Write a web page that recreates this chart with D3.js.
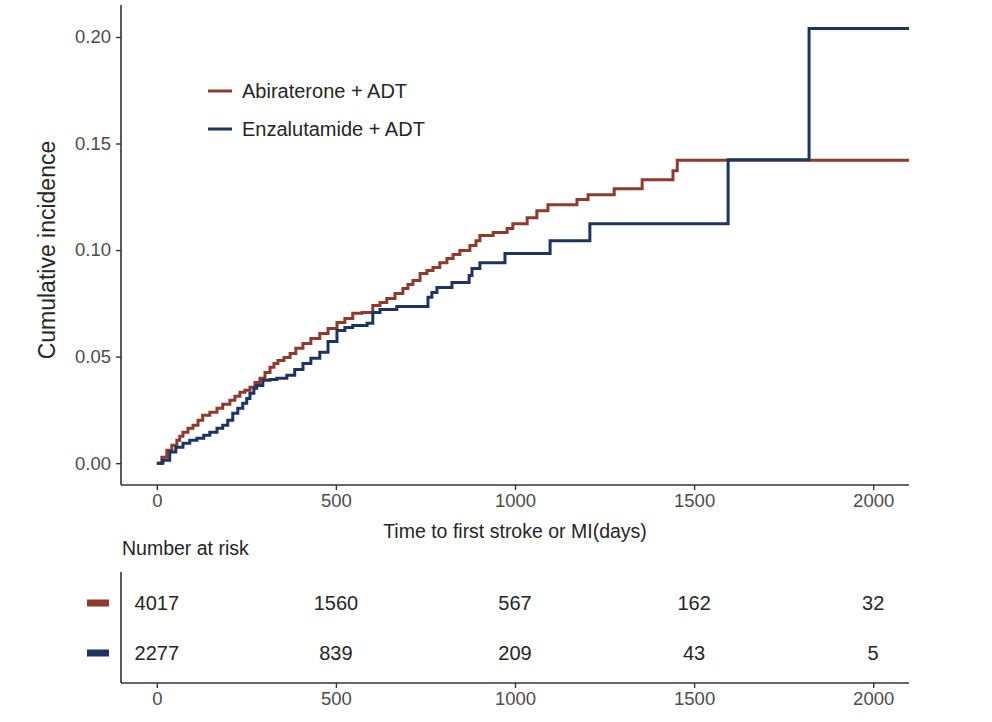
<!DOCTYPE html>
<html>
<head>
<meta charset="utf-8">
<script src="https://cdn.jsdelivr.net/npm/d3@7"></script>
<style>
  html, body { margin: 0; padding: 0; background: #ffffff; }
  svg { display: block; font-family: "Liberation Sans", Arial, Helvetica, sans-serif; }
</style>
</head>
<body>
<svg id="chart" width="992" height="722"></svg>
<script>
// ---- Data ----
const seriesNames = ["Abiraterone + ADT", "Enzalutamide + ADT"];
const seriesColors = ["#8f3a2f", "#1d3360"];

const abiTime = [0, 14, 28, 42, 56, 64, 73, 87, 101, 115, 128, 148, 168, 184, 204, 218, 232, 246, 260, 274, 288, 302, 316, 327, 338, 355, 372, 388, 408, 430, 455, 478, 503, 525, 547, 573, 603, 623, 642, 665, 687, 701, 715, 735, 754, 771, 790, 810, 827, 846, 874, 891, 902, 939, 978, 994, 1034, 1061, 1092, 1173, 1204, 1277, 1355, 1441, 1453, 2100];
const abiInc  = [0, 0.0028, 0.0061, 0.0084, 0.0108, 0.0126, 0.0145, 0.0164, 0.0178, 0.0201, 0.0225, 0.0239, 0.0258, 0.0276, 0.0295, 0.0314, 0.0333, 0.0342, 0.0356, 0.0379, 0.0398, 0.0426, 0.0450, 0.0468, 0.0482, 0.0496, 0.0515, 0.0539, 0.0562, 0.0585, 0.0609, 0.0632, 0.0660, 0.0679, 0.0703, 0.0707, 0.0740, 0.0754, 0.0773, 0.0796, 0.0820, 0.0838, 0.0857, 0.0890, 0.0904, 0.0918, 0.0941, 0.0960, 0.0979, 0.0998, 0.1021, 0.1044, 0.1068, 0.1082, 0.1101, 0.1124, 0.1152, 0.1185, 0.1213, 0.1237, 0.1260, 0.1288, 0.1330, 0.1372, 0.1422, 0.1422];

const enzTime = [0, 17, 36, 53, 73, 92, 112, 131, 148, 168, 184, 198, 212, 226, 240, 251, 260, 271, 279, 296, 316, 335, 363, 385, 408, 430, 455, 478, 503, 525, 547, 587, 603, 623, 670, 757, 768, 782, 824, 872, 880, 902, 972, 1098, 1209, 1595, 1821, 2100];
const enzInc  = [0, 0.0014, 0.0052, 0.0075, 0.0094, 0.0108, 0.0117, 0.0131, 0.0145, 0.0164, 0.0178, 0.0201, 0.0234, 0.0258, 0.0281, 0.0304, 0.0328, 0.0351, 0.0365, 0.0389, 0.0393, 0.0398, 0.0412, 0.0440, 0.0468, 0.0492, 0.0520, 0.0571, 0.0623, 0.0637, 0.0646, 0.0656, 0.0707, 0.0721, 0.0735, 0.0778, 0.0801, 0.0824, 0.0848, 0.0881, 0.0913, 0.0941, 0.0984, 0.1044, 0.1124, 0.1424, 0.2040, 0.2040];

const xTicks = [0, 500, 1000, 1500, 2000];
const yTicks = [0, 0.05, 0.10, 0.15, 0.20];

const riskTimes = [0, 500, 1000, 1500, 2000];
const riskAbi = [4017, 1560, 567, 162, 32];
const riskEnz = [2277, 839, 209, 43, 5];

const xTitle = "Time to first stroke or MI(days)";
const yTitle = "Cumulative incidence";
const riskTitle = "Number at risk";

// ---- Layout ----
const svg = d3.select("#chart");
const plotL = 121, plotR = 909, plotT = 5, plotB = 485;
const axisColor = "#333333";
const tickTextColor = "#4d4d4d";

const x = d3.scaleLinear().domain([-100, 2100]).range([plotL, plotR]);
const y = d3.scaleLinear().domain([-0.01025, 0.215]).range([plotB, plotT]);

// ---- Curves ----
const series = [
  abiTime.map((t, i) => ({ t, v: abiInc[i] })),
  enzTime.map((t, i) => ({ t, v: enzInc[i] }))
];
const line = d3.line().x(d => x(d.t)).y(d => y(d.v)).curve(d3.curveStepAfter);

series.forEach((s, i) => {
  svg.append("path")
    .datum(s)
    .attr("d", line)
    .attr("fill", "none")
    .attr("stroke", seriesColors[i])
    .attr("stroke-width", 3)
    .attr("stroke-linejoin", "miter");
});

// ---- Axes ----
const yAxis = d3.axisLeft(y).tickValues(yTicks).tickFormat(d3.format(".2f")).tickSize(5).tickPadding(5);
const yG = svg.append("g").attr("transform", `translate(${plotL},0)`).call(yAxis);
yG.select(".domain").remove();
yG.append("line").attr("x1", 0).attr("x2", 0).attr("y1", plotT).attr("y2", plotB)
  .attr("stroke", axisColor).attr("stroke-width", 1.6);
yG.selectAll(".tick line").attr("stroke", axisColor).attr("stroke-width", 1.4);
yG.selectAll(".tick text").attr("fill", tickTextColor).style("font-size", "18.5px");

const xAxis = d3.axisBottom(x).tickValues(xTicks).tickFormat(d3.format("d")).tickSize(5).tickPadding(4);
const xG = svg.append("g").attr("transform", `translate(0,${plotB})`).call(xAxis);
xG.select(".domain").remove();
xG.append("line").attr("x1", plotL).attr("x2", plotR).attr("y1", 0).attr("y2", 0)
  .attr("stroke", axisColor).attr("stroke-width", 1.6);
xG.selectAll(".tick line").attr("stroke", axisColor).attr("stroke-width", 1.4);
xG.selectAll(".tick text").attr("fill", tickTextColor).style("font-size", "18.5px");

// Axis titles
svg.append("text")
  .attr("x", (x(0) + x(2000)) / 2).attr("y", 531)
  .attr("text-anchor", "middle").attr("dominant-baseline", "central")
  .attr("fill", "#262626").style("font-size", "19.5px")
  .text(xTitle);

svg.append("text")
  .attr("transform", `translate(47,${(y(0) + y(0.2)) / 2}) rotate(-90)`)
  .attr("text-anchor", "middle").attr("dominant-baseline", "central")
  .attr("fill", "#262626").style("font-size", "23px")
  .text(yTitle);

// ---- Legend ----
const legend = svg.append("g");
seriesNames.forEach((name, i) => {
  const ly = 91 + i * 38;
  legend.append("line").attr("x1", 208).attr("x2", 232).attr("y1", ly).attr("y2", ly)
    .attr("stroke", seriesColors[i]).attr("stroke-width", 3);
  legend.append("text").attr("x", 242).attr("y", ly)
    .attr("dominant-baseline", "central").attr("fill", "#262626")
    .style("font-size", "20px").text(name);
});

// ---- Risk table ----
svg.append("text").attr("x", 122).attr("y", 548)
  .attr("dominant-baseline", "central").attr("fill", "#262626")
  .style("font-size", "19.5px").text(riskTitle);

const riskTop = 572, riskBottom = 683;
const riskRowY = d3.scalePoint().domain(seriesNames).range([603, 653]);

const rxAxis = d3.axisBottom(x).tickValues(xTicks).tickFormat(d3.format("d")).tickSize(5).tickPadding(4);
const rxG = svg.append("g").attr("transform", `translate(0,${riskBottom})`).call(rxAxis);
rxG.select(".domain").remove();
rxG.append("line").attr("x1", plotL).attr("x2", plotR).attr("y1", 0).attr("y2", 0)
  .attr("stroke", axisColor).attr("stroke-width", 1.6);
rxG.selectAll(".tick line").attr("stroke", axisColor).attr("stroke-width", 1.4);
rxG.selectAll(".tick text").attr("fill", tickTextColor).style("font-size", "18.5px");

svg.append("line").attr("x1", plotL).attr("x2", plotL).attr("y1", riskTop).attr("y2", riskBottom)
  .attr("stroke", axisColor).attr("stroke-width", 1.6);

const riskData = [riskAbi, riskEnz];
seriesNames.forEach((name, i) => {
  const ry = riskRowY(name);
  svg.append("rect").attr("x", 87).attr("y", ry - 3.5).attr("width", 22).attr("height", 7)
    .attr("fill", seriesColors[i]);
  svg.append("g").selectAll("text").data(riskTimes).join("text")
    .attr("x", d => x(d)).attr("y", ry)
    .attr("text-anchor", "middle").attr("dominant-baseline", "central")
    .attr("fill", "#262626").style("font-size", "20px")
    .text((d, j) => riskData[i][j]);
});
</script>
</body>
</html>
